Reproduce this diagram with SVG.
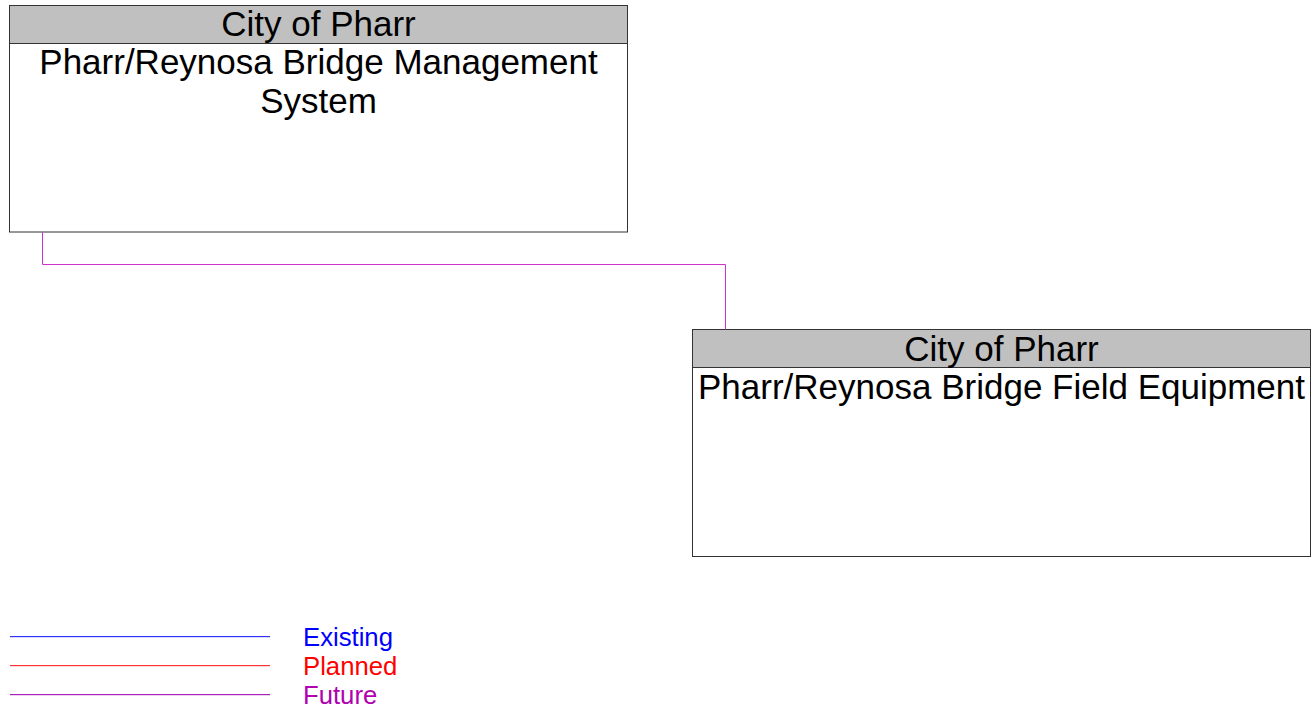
<svg xmlns="http://www.w3.org/2000/svg" width="1316" height="707" viewBox="0 0 1316 707">
<style>
.box{fill:#ffffff;stroke:#333333;stroke-width:1}
.hdr{fill:#c0c0c0;stroke:#333333;stroke-width:1}
.t{font-family:"Liberation Sans",Arial,sans-serif;font-size:35px;fill:#000000;text-anchor:middle}
.lg{font-family:"Liberation Sans",Arial,sans-serif;font-size:25.7px}
.conn{fill:none;stroke:#cc33cc;stroke-width:1}
</style>
<rect width="1316" height="707" fill="#ffffff"/>
<g id="node-bms">
<rect class="box" x="9.5" y="5.5" width="618" height="226.5"/>
<rect class="hdr" x="9.5" y="5.5" width="618" height="38"/>
<text class="t" x="318.5" y="36">City of Pharr</text>
<text class="t" x="318.5" y="74">Pharr/Reynosa Bridge Management</text>
<text class="t" x="318.5" y="113">System</text>
</g>
<g id="node-field">
<rect class="box" x="692.5" y="329.5" width="618" height="227"/>
<rect class="hdr" x="692.5" y="329.5" width="618" height="38"/>
<text class="t" x="1001.5" y="361">City of Pharr</text>
<text class="t" x="1001.5" y="399">Pharr/Reynosa Bridge Field Equipment</text>
</g>
<g id="connectors">
<polyline class="conn" points="42.5,232 42.5,264.5 725.5,264.5 725.5,329.5"/>
</g>
<g id="legend">
<rect x="10" y="636" width="260" height="1.2" fill="#3333ff"/>
<rect x="10" y="665" width="260" height="1.2" fill="#ff3333"/>
<rect x="10" y="694" width="260" height="1.2" fill="#aa22bb"/>
<text class="lg" x="303" y="645.5" fill="#0000ff">Existing</text>
<text class="lg" x="303" y="674.5" fill="#ff0000">Planned</text>
<text class="lg" x="303" y="703.5" fill="#b000b0">Future</text>
</g>
</svg>
